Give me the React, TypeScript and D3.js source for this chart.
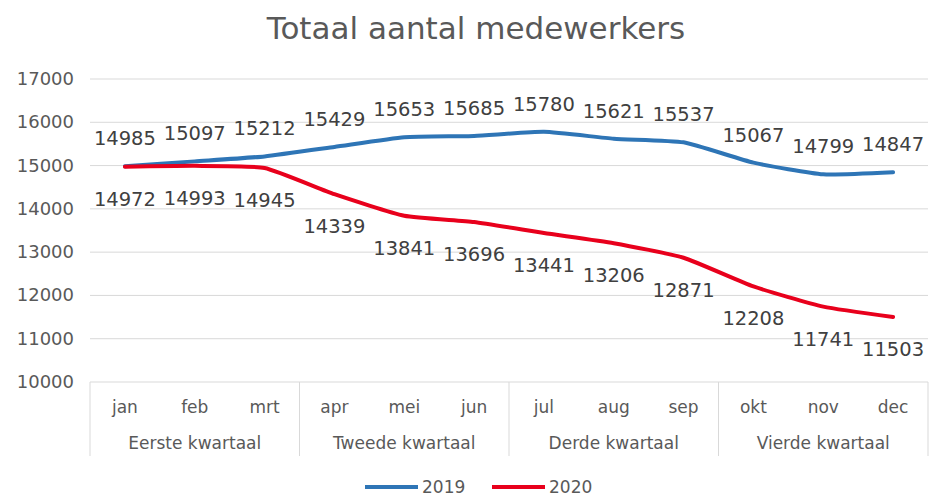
import React from "react";
import * as d3 from "d3";

const months = ["jan", "feb", "mrt", "apr", "mei", "jun", "jul", "aug", "sep", "okt", "nov", "dec"];
const quarters = ["Eerste kwartaal", "Tweede kwartaal", "Derde kwartaal", "Vierde kwartaal"];
const values2019 = [14985, 15097, 15212, 15429, 15653, 15685, 15780, 15621, 15537, 15067, 14799, 14847];
const values2020 = [14972, 14993, 14945, 14339, 13841, 13696, 13441, 13206, 12871, 12208, 11741, 11503];
const yTicks = [10000, 11000, 12000, 13000, 14000, 15000, 16000, 17000];

const W = 929;
const H = 497;
const FONT = "Verdana, 'DejaVu Sans', sans-serif";
const TEXT = "#595959";

const App = () => {
  const left = 90;
  const right = 928;
  const top = 79;
  const bottom = 382;

  const x = d3.scaleBand<string>().domain(months).range([left, right]);
  const y = d3.scaleLinear().domain([10000, 17000]).range([bottom, top]);

  const line = d3
    .line<number>()
    .x((_, i) => x(months[i])! + x.bandwidth() / 2)
    .y((d) => y(d))
    .curve(d3.curveCardinal.tension(0.5));

  const series = [
    { name: "2019", values: values2019, color: "#2E75B6", dy: -21 },
    { name: "2020", values: values2020, color: "#E8001C", dy: 39 },
  ];

  return (
    <svg width={W} height={H} style={{ position: "absolute", left: 0, top: 0 }} fontFamily={FONT}>
      <rect width={W} height={H} fill="#fff" />
      <text x={476} y={39} textAnchor="middle" fontSize={31} fill={TEXT}>
        Totaal aantal medewerkers
      </text>

      {/* grid + y labels */}
      {yTicks.map((t) => (
        <g key={t}>
          {t > 10000 && <line x1={left} x2={right} y1={y(t)} y2={y(t)} stroke="#d9d9d9" strokeWidth={1} />}
          <text x={74} y={y(t) + 6} textAnchor="end" fontSize={18} fill={TEXT}>
            {t}
          </text>
        </g>
      ))}

      {/* category axis box */}
      <line x1={left} x2={right} y1={bottom} y2={bottom} stroke="#d9d9d9" />
      {[0, 3, 6, 9, 12].map((i) => {
        const xx = i < 12 ? x(months[i])! : right;
        return <line key={i} x1={xx} x2={xx} y1={bottom} y2={456} stroke="#d9d9d9" />;
      })}
      {months.map((m) => (
        <text key={m} x={x(m)! + x.bandwidth() / 2} y={413} textAnchor="middle" fontSize={17} fill={TEXT}>
          {m}
        </text>
      ))}
      {quarters.map((q, i) => (
        <text
          key={q}
          x={(x(months[i * 3])! + (i === 3 ? right : x(months[i * 3 + 3])!)) / 2}
          y={449}
          textAnchor="middle"
          fontSize={17}
          fill={TEXT}
        >
          {q}
        </text>
      ))}

      {/* lines */}
      {series.map((s) => (
        <path key={s.name} d={line(s.values)!} fill="none" stroke={s.color} strokeWidth={4} strokeLinecap="round" />
      ))}

      {/* data labels */}
      {series.map((s) =>
        s.values.map((v, i) => (
          <text
            key={s.name + i}
            x={x(months[i])! + x.bandwidth() / 2}
            y={y(v) + s.dy}
            textAnchor="middle"
            fontSize={19.5}
            fill="#404040"
          >
            {v}
          </text>
        ))
      )}

      {/* legend */}
      {series.map((s, i) => (
        <g key={s.name} transform={`translate(${365 + i * 127},487)`}>
          <line x1={0} x2={53} y1={0} y2={0} stroke={s.color} strokeWidth={4} />
          <text x={57} y={6} fontSize={17} fill={TEXT}>
            {s.name}
          </text>
        </g>
      ))}
    </svg>
  );
};

export default App;
